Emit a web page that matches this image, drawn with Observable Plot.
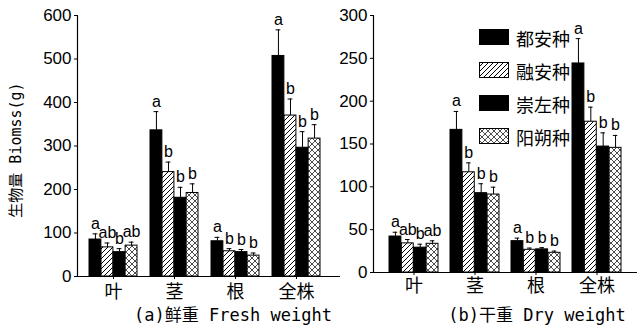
<!DOCTYPE html>
<html><head><meta charset="utf-8">
<script src="https://cdn.jsdelivr.net/npm/d3@7"></script>
<script src="https://cdn.jsdelivr.net/npm/@observablehq/plot@0.6"></script>
<style>
body{margin:0;background:#fff;}
#wrap{position:relative;width:637px;height:331px;overflow:hidden;background:#fff;font-family:"Liberation Sans",Arial,sans-serif;}
#left,#right{position:absolute;top:0;}
#left{left:0;}
#right{left:320px;}
.cap{position:absolute;top:306px;line-height:18px;font-family:"DejaVu Sans Mono","Noto Sans CJK SC",monospace;font-size:17px;white-space:pre;transform:translateX(-50%);}
#ylab{position:absolute;left:16px;top:150px;transform:translate(-50%,-50%) rotate(-90deg);white-space:pre;font-family:"DejaVu Sans Mono","Noto Sans CJK SC",monospace;font-size:15px;line-height:16px;}
#legend{position:absolute;left:479px;top:21px;}
.li{display:flex;align-items:center;height:33px;font-family:"Noto Sans CJK SC",sans-serif;font-size:18px;}
.li svg{margin-right:6px;}
</style></head>
<body>
<svg width="0" height="0" style="position:absolute">
<defs>
<pattern id="hatch" patternUnits="userSpaceOnUse" width="5" height="5">
<rect width="5" height="5" fill="white"/>
<path d="M-1,1 l2,-2 M0,5 l5,-5 M4,6 l2,-2" stroke="black" stroke-width="1"/>
</pattern>
<pattern id="cross" patternUnits="userSpaceOnUse" width="6" height="6">
<rect width="6" height="6" fill="white"/>
<path d="M0,0 L6,6 M6,0 L0,6" stroke="black" stroke-width="0.7"/>
</pattern>
</defs>
</svg>
<div id="wrap">
<div id="left"></div>
<div id="right"></div>
<div id="ylab">生物量 Biomss(g)</div>
<div class="cap" style="left:233px">(a)鲜重 Fresh weight</div>
<div class="cap" style="left:537px">(b)干重 Dry weight</div>
<div id="legend"></div>
</div>
<script>
// ---- data ----
const organs = ["叶", "茎", "根", "全株"];
const varieties = ["都安种", "融安种", "崇左种", "阳朔种"];
// fresh weight (g): rows = organs, columns = varieties
const freshMean = [[85, 67, 56, 71], [336, 240, 181, 192], [81, 58, 56, 48], [507, 370, 296, 317]];
const freshSE   = [[13, 10, 8, 8],   [43, 23, 24, 21],     [9, 6, 6, 6],     [60, 38, 37, 32]];
const freshSig  = [["a","ab","b","ab"], ["a","b","b","b"], ["a","b","b","b"], ["a","b","b","b"]];
// dry weight (g)
const dryMean = [[42, 34, 29, 33.5], [166.5, 117, 92.6, 91], [36.6, 26.5, 27, 23], [244, 176, 147, 145.5]];
const drySE   = [[5, 4.5, 4, 3.5],   [21.5, 11, 11, 8.6],     [3.5, 2, 2, 2],       [29, 17, 16, 14.5]];
const drySig  = [["a","ab","b","ab"], ["a","b","b","b"], ["a","b","b","b"], ["a","b","b","b"]];
const freshTicks = [0, 100, 200, 300, 400, 500, 600];
const dryTicks = [0, 50, 100, 150, 200, 250, 300];

// ---- styles ----
const fills = ["black", "url(#hatch)", "black", "url(#cross)"];

function rowsOf(mean, se, sig) {
  const out = [];
  organs.forEach((o, oi) => varieties.forEach((v, vi) => out.push({organ: o, variety: v, i: vi, mean: mean[oi][vi], top: mean[oi][vi] + se[oi][vi], sig: sig[oi][vi]})));
  return out;
}

function panel(rows, ticks, opt) {
  const n = organs.length;
  const range = opt.width - opt.marginLeft - opt.marginRight;
  const step = range / (n - opt.pi + 2 * opt.po);
  const bw = step * (1 - opt.pi);
  const sub = bw / varieties.length;
  const marks = [];
  varieties.forEach((v, i) => {
    const d = rows.filter(r => r.i === i);
    const off = (i + 0.5) * sub - bw / 2;
    marks.push(Plot.barY(d, {x: "organ", y: "mean", fill: fills[i], stroke: "black", strokeWidth: 1,
      insetLeft: i * sub, insetRight: (varieties.length - 1 - i) * sub}));
    marks.push(Plot.ruleX(d, {x: "organ", y1: "mean", y2: "top", dx: off, stroke: "black", strokeWidth: 1}));
    marks.push(Plot.tickY(d, {x: "organ", y: "top", stroke: "black", strokeWidth: 1,
      insetLeft: i * sub + sub / 2 - 2.5, insetRight: (varieties.length - 1 - i) * sub + sub / 2 - 2.5}));
    marks.push(Plot.text(d, {x: "organ", y: "top", text: "sig", dx: off, dy: -5, lineAnchor: "bottom",
      fontSize: 16, fill: "black", fontFamily: "Liberation Sans, Arial, sans-serif"}));
  });
  marks.push(Plot.ruleY([0], {stroke: "black", strokeWidth: 1.2}));
  marks.push(Plot.frame({anchor: "left", stroke: "black", strokeWidth: 1.2}));
  marks.push(Plot.axisY({ticks: ticks, tickSize: 3, tickPadding: 3, fontSize: 17, label: null, tickFormat: d => d}));
  marks.push(Plot.axisX({tickSize: 3, tickPadding: opt.xpad, fontSize: 18, fontFamily: "Noto Sans CJK SC, sans-serif", label: null}));
  return Plot.plot({
    width: opt.width, height: opt.height,
    marginLeft: opt.marginLeft, marginRight: opt.marginRight,
    marginTop: opt.marginTop, marginBottom: opt.marginBottom,
    style: {background: "none", overflow: "visible", fontFamily: "Liberation Sans, Arial, sans-serif", color: "black"},
    x: {domain: organs, paddingInner: opt.pi, paddingOuter: opt.po, align: opt.align},
    y: {domain: [0, ticks[ticks.length - 1]]},
    marks
  });
}

document.getElementById("left").appendChild(panel(rowsOf(freshMean, freshSE, freshSig), freshTicks,
  {width: 340, height: 305, marginLeft: 77, marginRight: 0, marginTop: 15, marginBottom: 29, pi: 0.215, po: 0.25, align: 0.386, xpad: 6}));
document.getElementById("right").appendChild(panel(rowsOf(dryMean, drySE, drySig), dryTicks,
  {width: 317, height: 305, marginLeft: 53, marginRight: 0, marginTop: 15, marginBottom: 33, pi: 0.198, po: 0.238, align: 0.5, xpad: 4}));

// legend
const leg = document.getElementById("legend");
varieties.forEach((v, i) => {
  const div = document.createElement("div");
  div.className = "li";
  div.innerHTML = `<svg width="31" height="17"><rect x="0.5" y="0.5" width="29" height="15" fill="${fills[i]}" stroke="black"/></svg><span>${v}</span>`;
  leg.appendChild(div);
});
</script>
</body></html>
